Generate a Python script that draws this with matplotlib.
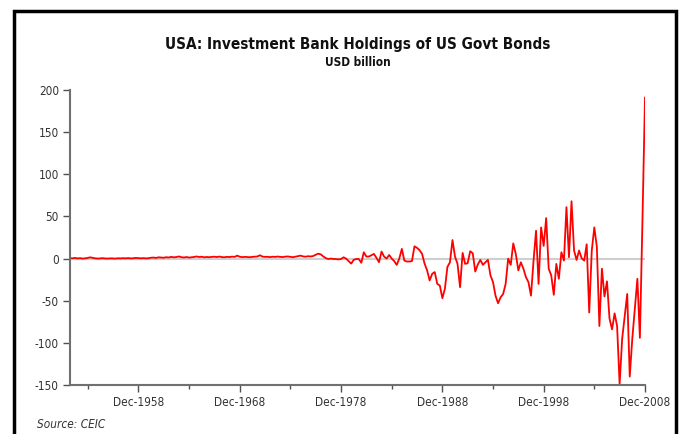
import pandas as pd
import matplotlib.pyplot as plt
from matplotlib.patches import Rectangle

# Quarterly values, USD billion, 1952Q1 - 2008Q4
start_quarter = '1952Q1'
end_quarter = '2008Q4'

holdings_1952_1977 = [
    0.5, 0.3, 0.8, 0.2, 0.5, 0.0, 0.3, 0.8, 1.5, 0.8,
    0.3, 0.0, 0.2, 0.5, 0.1, 0.0, 0.3, 0.2, 0.0, 0.4,
    0.2, 0.5, 0.3, 0.6, 0.2, 0.4, 0.8, 0.5, 0.3, 0.6,
    0.2, 0.5, 1.0, 1.2, 0.8, 1.5, 1.2, 1.0, 1.6, 1.3,
    2.0, 1.5, 1.8, 2.5, 1.6, 1.3, 1.8, 1.2, 1.5, 1.9,
    2.5, 1.8, 2.2, 1.5, 1.9, 1.6, 2.0, 2.2, 1.8, 2.4,
    1.7, 1.6, 2.0, 1.8, 2.3, 2.0, 3.5, 2.2, 1.7, 2.0,
    1.8, 1.6, 2.0, 2.2, 2.5, 4.0, 2.3, 2.0, 2.1, 1.7,
    2.2, 2.0, 2.4, 2.0, 1.8, 2.3, 2.5, 2.0, 1.6, 2.2,
    2.8, 3.5, 2.6, 2.2, 2.8, 2.5, 3.0, 4.5, 5.8, 5.0,
    2.5, 0.5, -0.5,
]
holdings_1977_1990 = [
    0.0, -0.5, -0.5, -1.0, -0.5, 1.5, 0.0, -3.0, -6.0, -1.5,
    -0.5, -0.5, -5.0, 7.5, 2.4, 2.4, 4.0, 5.5, 0.8, -4.3,
    8.3, 2.4, 0.0, 4.3, 0.0, -3.0, -7.5, 0.0, 11.5, -2.4,
    -3.5, -3.5, -3.0, 14.6, 12.7, 10.0, 5.5, -6.0, -14.0, -26.0,
    -18.0, -16.0, -30.0, -32.0, -47.0, -36.0, -10.0, -4.4, 22.0, 2.4,
    -6.3, -34.0,
]
holdings_1990_2008 = [
    6.7, -6.3, -5.5, 8.7, 6.3, -15.4, -7.0, -1.6, -7.5, -4.4,
    -1.6, -20.0, -28.0, -44.0, -53.0, -46.0, -42.0, -30.0, 0.0, -7.5,
    18.0, 5.5, -14.0, -4.4, -12.0, -22.0, -28.0, -44.0, -2.4, 33.0,
    -30.0, 37.0, 15.0, 48.0, -12.0, -20.0, -43.0, -6.3, -24.0, 7.5,
    -2.4, 61.0, 1.6, 68.0, 9.5, -1.6, 9.5, 0.4, -2.4, 17.0,
    -64.0, 9.5, 37.0, 14.0, -80.0, -12.0, -45.0, -27.0, -71.0, -84.0,
    -65.0, -80.0, -149.0, -95.0, -68.0, -42.0, -140.0, -95.0, -60.0, -24.0,
    -94.0, 45.0, 191.0,
]
holdings = holdings_1952_1977 + holdings_1977_1990 + holdings_1990_2008

dates = pd.period_range(start_quarter, end_quarter, freq='Q').to_timestamp(how='end')

tick_years = [1958, 1968, 1978, 1988, 1998, 2008]
minor_years = [1953, 1963, 1973, 1983, 1993, 2003]
y_ticks = [-150, -100, -50, 0, 50, 100, 150, 200]

plt.rcParams['font.family'] = ['DejaVu Sans']
plt.rcParams['font.stretch'] = 'condensed'

fig = plt.figure(figsize=(6.8, 4.34), dpi=100)
ax = fig.add_axes([70 / 680, (434 - 385) / 434, 575 / 680, 295 / 434])

# black frame round the chart (its bottom edge is cut off)
fig.patches.append(Rectangle((14 / 680, -0.1), 662 / 680, 1.1 - 11 / 434,
                             transform=fig.transFigure, fill=False,
                             edgecolor='black', linewidth=2.5, clip_on=False))

ax.axhline(0, color='#cfcfcf', linewidth=1.5, zorder=1)
ax.plot(dates, holdings, color='#ff0000', linewidth=1.3, zorder=2)

ax.set_xlim(dates[0], dates[-1])
ax.set_ylim(-150, 200)
ax.set_yticks(y_ticks)
ax.set_yticklabels([str(v) for v in y_ticks])

ax.set_xticks([pd.Timestamp(f'{y}-12-31') for y in tick_years])
ax.set_xticklabels([f'Dec-{y}' for y in tick_years])
ax.set_xticks([pd.Timestamp(f'{y}-12-31') for y in minor_years], minor=True)

for side in ['top', 'right']:
    ax.spines[side].set_visible(False)
for side in ['left', 'bottom']:
    ax.spines[side].set_color('#707070')
    ax.spines[side].set_linewidth(1.5)

ax.tick_params(axis='both', which='major', color='#505050', width=1, length=5,
               labelsize=8.5, labelcolor='#333333', pad=3)
ax.tick_params(axis='x', which='minor', color='#505050', width=1, length=3)

fig.text(357.5 / 680, 1 - 45 / 434, 'USA: Investment Bank Holdings of US Govt Bonds',
         ha='center', va='center', fontsize=11, fontweight='bold', color='#111111')
fig.text(357.5 / 680, 1 - 62 / 434, 'USD billion', ha='center', va='center',
         fontsize=8.5, fontweight='bold', color='#111111')
fig.text(37 / 680, 1 - 424 / 434, 'Source: CEIC', fontsize=8.5, style='italic',
         color='#333333', va='center')

plt.savefig('out.png', dpi=100)
